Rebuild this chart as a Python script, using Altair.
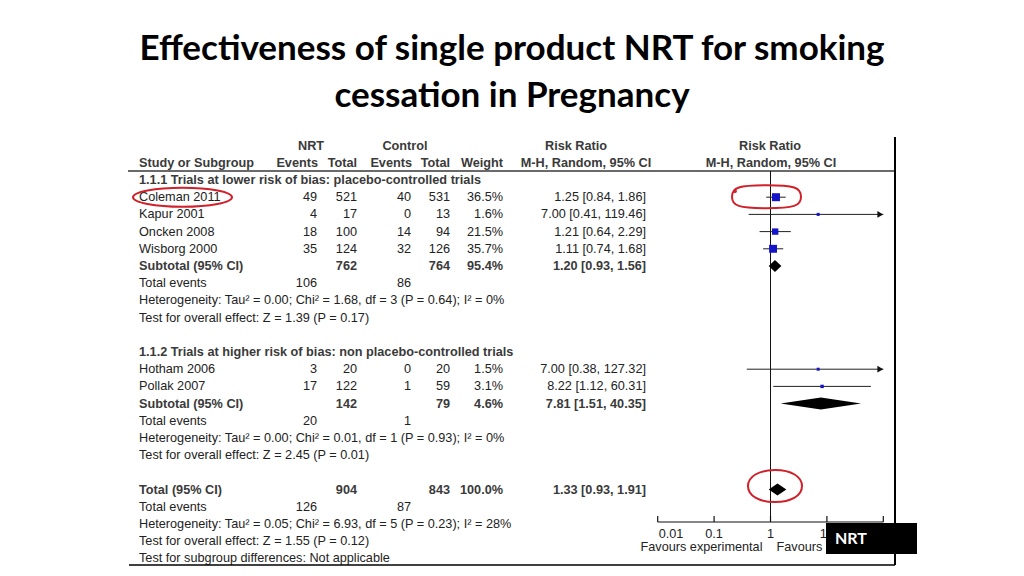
import altair as alt
import pandas as pd

# ---------------- data ----------------
title_lines = ["Effectiveness of single product NRT for smoking", "cessation in Pregnancy"]

studies = ["Coleman 2011", "Kapur 2001", "Oncken 2008", "Wisborg 2000", "Hotham 2006", "Pollak 2007"]
study_rows = [1, 2, 3, 4, 11, 12]
nrt_events = [49, 4, 18, 35, 3, 17]
nrt_total = [521, 17, 100, 124, 20, 122]
ctl_events = [40, 0, 14, 32, 0, 1]
ctl_total = [531, 13, 94, 126, 20, 59]
weights = [36.5, 1.6, 21.5, 35.7, 1.5, 3.1]
rr = [1.25, 7.00, 1.21, 1.11, 7.00, 8.22]
rr_lo = [0.84, 0.41, 0.64, 0.74, 0.38, 1.12]
rr_hi = [1.86, 119.46, 2.29, 1.68, 127.32, 60.31]

sum_labels = ["Subtotal (95% CI)", "Subtotal (95% CI)", "Total (95% CI)"]
sum_rows = [5, 13, 18]
sum_nrt_total = [762, 142, 904]
sum_ctl_total = [764, 79, 843]
sum_weights = [95.4, 4.6, 100.0]
sum_rr = [1.20, 7.81, 1.33]
sum_lo = [0.93, 1.51, 0.93]
sum_hi = [1.56, 40.35, 1.91]

ev_rows = [6, 14, 19]
ev_nrt = [106, 20, 126]
ev_ctl = [86, 1, 87]

group_rows = [0, 10]
group_labels = ["1.1.1 Trials at lower risk of bias: placebo-controlled trials",
                "1.1.2 Trials at higher risk of bias: non placebo-controlled trials"]

note_rows = [7, 8, 15, 16, 20, 21, 22]
note_texts = [
    "Heterogeneity: Tau\u00b2 = 0.00; Chi\u00b2 = 1.68, df = 3 (P = 0.64); I\u00b2 = 0%",
    "Test for overall effect: Z = 1.39 (P = 0.17)",
    "Heterogeneity: Tau\u00b2 = 0.00; Chi\u00b2 = 0.01, df = 1 (P = 0.93); I\u00b2 = 0%",
    "Test for overall effect: Z = 2.45 (P = 0.01)",
    "Heterogeneity: Tau\u00b2 = 0.05; Chi\u00b2 = 6.93, df = 5 (P = 0.23); I\u00b2 = 28%",
    "Test for overall effect: Z = 1.55 (P = 0.12)",
    "Test for subgroup differences: Not applicable",
]

axis_ticks = [0.01, 0.1, 1, 10, 100]
axis_labels = ["0.01", "0.1", "1", "10", "100"]
favours = ["Favours experimental", "Favours control"]
box_label = ["NRT"]

# ---------------- style ----------------
FONT = "Liberation Sans"
TFONT = "Lato"
FS = 12.7
TXT = "#222222"
BOLDTXT = "#3a3a3a"
XS = alt.Scale(type="log", domain=[0.01, 100], range=[649.7, 875.3], nice=False)
YS = alt.Scale(domain=[0, 22], range=[172, 550.4], nice=False, zero=False)
Y = lambda f="row": alt.Y(f"{f}:Q", scale=YS, axis=None)
X = lambda f: alt.X(f"{f}:Q", scale=XS, axis=None)


def text_layer(df, field, x, align="left", bold=False, color=TXT, size=FS):
    return alt.Chart(df).mark_text(
        align=align, baseline="middle", font=FONT, fontSize=size,
        fontWeight="bold" if bold else "normal", color=color
    ).encode(x=alt.value(x), y=Y(), text=alt.Text(f"{field}:N"))


def fmt_rr(r, l, h):
    return f"{r:.2f} [{l:.2f}, {h:.2f}]"


# study table
study_df = pd.DataFrame({
    "row": study_rows, "label": studies,
    "ne": [str(v) for v in nrt_events], "nt": [str(v) for v in nrt_total],
    "ce": [str(v) for v in ctl_events], "ct": [str(v) for v in ctl_total],
    "w": [f"{v:.1f}%" for v in weights],
    "rrt": [fmt_rr(a, b, c) for a, b, c in zip(rr, rr_lo, rr_hi)],
    "rr": rr, "lo": rr_lo, "hi": rr_hi,
    "hic": [min(v, 100) for v in rr_hi], "wt": weights,
})
sum_df = pd.DataFrame({
    "row": sum_rows, "label": sum_labels,
    "nt": [str(v) for v in sum_nrt_total], "ct": [str(v) for v in sum_ctl_total],
    "w": [f"{v:.1f}%" for v in sum_weights],
    "rrt": [fmt_rr(a, b, c) for a, b, c in zip(sum_rr, sum_lo, sum_hi)],
})
ev_df = pd.DataFrame({"row": ev_rows, "label": ["Total events"] * 3,
                      "ne": [str(v) for v in ev_nrt], "ce": [str(v) for v in ev_ctl]})
grp_df = pd.DataFrame({"row": group_rows, "label": group_labels})
note_df = pd.DataFrame({"row": note_rows, "label": note_texts})

layers = []

# title
title_df = pd.DataFrame({"t": title_lines, "yy": [52, 99]})
layers.append(alt.Chart(title_df).mark_text(
    align="center", baseline="alphabetic", font=TFONT, fontSize=35, fontWeight="bold", color="#000"
).encode(x=alt.value(504), y=alt.Y("yy:Q", scale=None), text="t:N"))


# headers
def hdr(row, text, x, align):
    d = pd.DataFrame({"row": [row], "t": [text]})
    return text_layer(d, "t", x, align, bold=True, color=BOLDTXT)


layers += [
    hdr(-2, "NRT", 303, "center"), hdr(-2, "Control", 397, "center"),
    hdr(-2, "Risk Ratio", 568, "center"), hdr(-2, "Risk Ratio", 762, "center"),
    hdr(-1, "Study or Subgroup", 131, "left"), hdr(-1, "Events", 310, "right"),
    hdr(-1, "Total", 349, "right"), hdr(-1, "Events", 404, "right"),
    hdr(-1, "Total", 442, "right"), hdr(-1, "Weight", 495, "right"),
    hdr(-1, "M-H, Random, 95% CI", 578, "center"), hdr(-1, "M-H, Random, 95% CI", 763, "center"),
]

# table body
layers += [
    text_layer(grp_df, "label", 131, bold=True, color=BOLDTXT),
    text_layer(study_df, "label", 131),
    text_layer(study_df, "ne", 309, "right"),
    text_layer(study_df, "nt", 349, "right"),
    text_layer(study_df, "ce", 403, "right"),
    text_layer(study_df, "ct", 442, "right"),
    text_layer(study_df, "w", 495, "right"),
    text_layer(study_df, "rrt", 638, "right"),
    text_layer(sum_df, "label", 131, bold=True, color=BOLDTXT),
    text_layer(sum_df, "nt", 349, "right", bold=True, color=BOLDTXT),
    text_layer(sum_df, "ct", 442, "right", bold=True, color=BOLDTXT),
    text_layer(sum_df, "w", 495, "right", bold=True, color=BOLDTXT),
    text_layer(sum_df, "rrt", 638, "right", bold=True, color=BOLDTXT),
    text_layer(ev_df, "label", 131),
    text_layer(ev_df, "ne", 309, "right"),
    text_layer(ev_df, "ce", 403, "right"),
    text_layer(note_df, "label", 131),
]

# frame lines
one = pd.DataFrame({"v": [1]})
layers += [
    alt.Chart(one).mark_rule(color="#6a6a6a", strokeWidth=2).encode(
        x=alt.value(120), x2=alt.value(887), y=alt.value(163)),
    alt.Chart(one).mark_rule(color="#000", strokeWidth=2).encode(
        x=alt.value(887), y=alt.value(129), y2=alt.value(557)),
    alt.Chart(one).mark_rule(color="#000", strokeWidth=1.5).encode(
        x=alt.value(121), x2=alt.value(887), y=alt.value(557)),
]

# forest: line of no effect
layers.append(alt.Chart(one).mark_rule(color="#111", strokeWidth=1).encode(
    x=X("v"), y=alt.value(163), y2=alt.value(514)))

# CIs, squares, arrows
layers.append(alt.Chart(study_df).mark_rule(color="#222", strokeWidth=1).encode(
    x=X("lo"), x2="hic:Q", y=Y()))
layers.append(alt.Chart(study_df).mark_square(filled=True, color="#1414c8", opacity=1).encode(
    x=X("rr"), y=Y(),
    size=alt.Size("wt:Q", scale=alt.Scale(domain=[1.5, 36.5], range=[9, 64]), legend=None)))
arrow_df = study_df[study_df["hi"] > 100]
layers.append(alt.Chart(arrow_df).mark_point(
    shape="triangle-right", filled=True, size=45, color="#111", opacity=1, xOffset=-3).encode(
    x=X("hic"), y=Y()))

# diamonds
H = 6 / 17.2
drows = []
for i, (r, l, h, row) in enumerate(zip(sum_rr, sum_lo, sum_hi, sum_rows)):
    drows += [
        {"id": i, "x": l, "y1": row, "y2": row},
        {"id": i, "x": r, "y1": row - H, "y2": row + H},
        {"id": i, "x": h, "y1": row, "y2": row},
    ]
dia_df = pd.DataFrame(drows)
layers.append(alt.Chart(dia_df).mark_area(color="#000", orient="vertical", opacity=1).encode(
    x=X("x"), y=Y("y1"), y2="y2:Q", detail="id:N"))

# axis
ax_df = pd.DataFrame({"a": [axis_ticks[0]], "b": [axis_ticks[-1]]})
layers.append(alt.Chart(ax_df).mark_rule(color="#111", strokeWidth=1.2).encode(
    x=X("a"), x2="b:Q", y=alt.value(514)))
tick_df = pd.DataFrame({"t": axis_ticks, "lab": axis_labels})
layers.append(alt.Chart(tick_df).mark_rule(color="#111", strokeWidth=1.2).encode(
    x=X("t"), y=alt.value(508), y2=alt.value(514)))
layers.append(alt.Chart(tick_df.iloc[:1]).mark_text(
    align="left", baseline="middle", font=FONT, fontSize=FS, color=TXT, dx=1).encode(
    x=X("t"), y=alt.value(526), text="lab:N"))
layers.append(alt.Chart(tick_df.iloc[1:]).mark_text(
    align="center", baseline="middle", font=FONT, fontSize=FS, color=TXT).encode(
    x=X("t"), y=alt.value(526), text="lab:N"))
fav_l = pd.DataFrame({"v": [1], "lab": [favours[0]]})
fav_r = pd.DataFrame({"v": [1], "lab": [favours[1]]})
layers.append(alt.Chart(fav_l).mark_text(
    align="right", baseline="middle", font=FONT, fontSize=FS, color=TXT, dx=-8).encode(
    x=X("v"), y=alt.value(539), text="lab:N"))
layers.append(alt.Chart(fav_r).mark_text(
    align="left", baseline="middle", font=FONT, fontSize=FS, color=TXT, dx=6).encode(
    x=X("v"), y=alt.value(539), text="lab:N"))

# NRT label box
box_df = pd.DataFrame({"lab": box_label})
layers.append(alt.Chart(box_df).mark_rect(color="#000").encode(
    x=alt.value(818), x2=alt.value(909), y=alt.value(515), y2=alt.value(546)))
layers.append(alt.Chart(box_df).mark_text(
    align="left", baseline="middle", font=TFONT, fontSize=16, fontWeight="bold", color="#fff").encode(
    x=alt.value(827), y=alt.value(531), text="lab:N"))


# red hand-drawn annotations
def ellipse_path(ry, k=0.5523):
    return (f"M 1 0 C 1 {k*ry:.3f} {k:.3f} {ry:.3f} 0 {ry:.3f} "
            f"C {-k:.3f} {ry:.3f} -1 {k*ry:.3f} -1 0 "
            f"C -1 {-k*ry:.3f} {-k:.3f} {-ry:.3f} 0 {-ry:.3f} "
            f"C {k:.3f} {-ry:.3f} 1 {-k*ry:.3f} 1 0 Z")


RED = "#d0202a"
ann_text = pd.DataFrame({"row": [study_rows[0]]})
layers.append(alt.Chart(ann_text).mark_point(
    shape=ellipse_path(19 / 99), size=99 ** 2, filled=False, stroke=RED, strokeWidth=2, opacity=1).encode(
    x=alt.value(174.5), y=Y()))
layers.append(alt.Chart(ann_text).mark_point(
    shape=ellipse_path(23 / 69, k=0.8), size=69 ** 2, filled=False, stroke=RED, strokeWidth=2,
    opacity=1, yOffset=-0.5).encode(x=alt.value(758.5), y=Y()))
layers.append(alt.Chart(ann_text).mark_point(
    shape="circle", size=14, filled=True, color=RED, opacity=1, yOffset=-6).encode(
    x=alt.value(727), y=Y()))
ann_tot = pd.DataFrame({"row": [sum_rows[2]]})
layers.append(alt.Chart(ann_tot).mark_point(
    shape=ellipse_path(32 / 54, k=0.6), size=54 ** 2, filled=False, stroke=RED, strokeWidth=2,
    opacity=1, yOffset=-3.5).encode(x=alt.value(767), y=Y()))

chart = alt.layer(*layers).properties(
    width=1008, height=560, padding=0,
    autosize=alt.AutoSizeParams(type="none"),
    background="white",
).configure_view(stroke=None)

chart.save("out.html", embed_options={"renderer": "svg", "actions": False})
